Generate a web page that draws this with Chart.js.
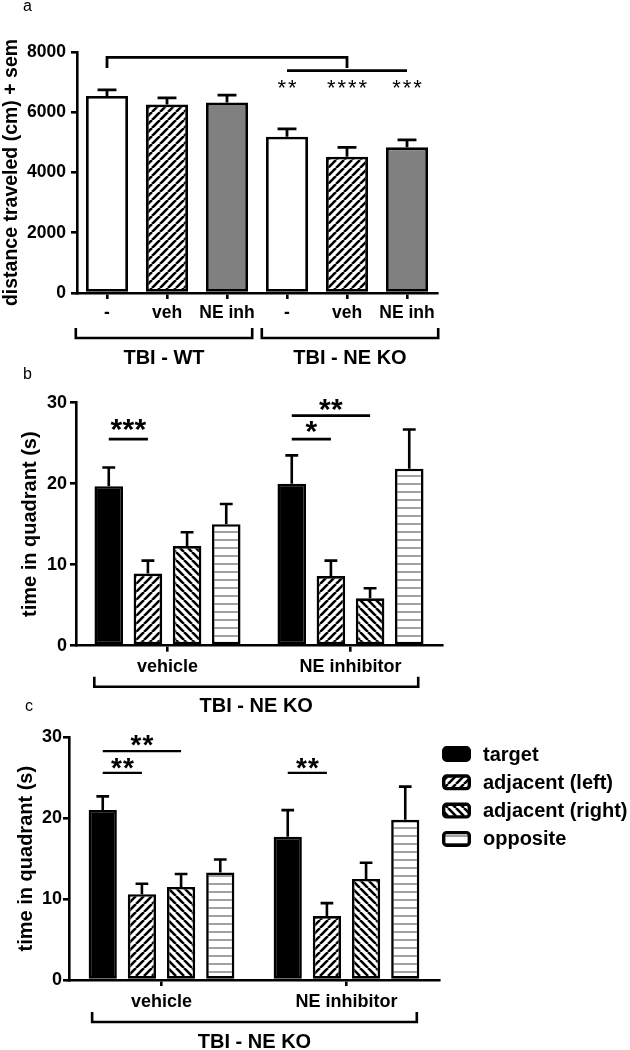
<!DOCTYPE html>
<html>
<head>
<meta charset="utf-8">
<script src="https://cdn.jsdelivr.net/npm/chart.js@4.4.1/dist/chart.umd.min.js"></script>
<style>
  html, body { margin: 0; padding: 0; background: #fff; }
  body { width: 630px; height: 1050px; position: relative; overflow: hidden; }
  canvas { position: absolute; left: 0; top: 0; }
</style>
</head>
<body>
<canvas id="chartA" width="630" height="1050"></canvas>
<canvas id="chartB" width="630" height="1050"></canvas>
<canvas id="chartC" width="630" height="1050"></canvas>
<script>
var FONT = '"Liberation Sans", Arial, sans-serif';

// panel a: distance traveled
var distLabels = ['-', 'veh', 'NE inh', '-', 'veh', 'NE inh'];
var distMean = [6540, 6260, 6320, 5190, 4525, 4835];
var distSem = [200, 220, 250, 255, 310, 245];
var distGroups = ['TBI - WT', 'TBI - NE KO'];
var distStars = ['', '', '', '**', '****', '***'];
var distTicks = [0, 2000, 4000, 6000, 8000];

// panels b and c: time in quadrant
var quadrants = ['target', 'adjacent (left)', 'adjacent (right)', 'opposite'];
var treatments = ['vehicle', 'NE inhibitor'];
var probeGroup = 'TBI - NE KO';
var timeTicks = [0, 10, 20, 30];

var bTarget = [19.7, 20.0];
var bTargetSem = [2.3, 3.5];
var bLeft = [8.9, 8.6];
var bLeftSem = [1.6, 1.9];
var bRight = [12.3, 5.85];
var bRightSem = [1.7, 1.25];
var bOpposite = [15.0, 21.85];
var bOppositeSem = [2.5, 4.85];

var cTarget = [21.0, 17.7];
var cTargetSem = [1.7, 3.3];
var cLeft = [10.6, 7.9];
var cLeftSem = [1.3, 1.6];
var cRight = [11.5, 12.5];
var cRightSem = [1.6, 2.0];
var cOpposite = [13.3, 19.8];
var cOppositeSem = [1.6, 4.1];

function makeHatch(ctx, dir) {
  var s = 8;
  var tile = document.createElement('canvas');
  tile.width = s;
  tile.height = s;
  var g = tile.getContext('2d');
  g.fillStyle = '#fff';
  g.fillRect(0, 0, s, s);
  g.strokeStyle = '#000';
  g.lineWidth = 2.6;
  g.beginPath();
  for (var k = -1; k <= 1; k++) {
    if (dir === '/') {
      g.moveTo(k * s, s);
      g.lineTo(k * s + s, 0);
    } else {
      g.moveTo(k * s, 0);
      g.lineTo(k * s + s, s);
    }
  }
  g.stroke();
  return ctx.createPattern(tile, 'repeat');
}

function makeLines(ctx) {
  var tile = document.createElement('canvas');
  tile.width = 8;
  tile.height = 8;
  var g = tile.getContext('2d');
  g.fillStyle = '#fff';
  g.fillRect(0, 0, 8, 8);
  g.fillStyle = '#7a7a7a';
  g.fillRect(0, 3.3, 8, 1.4);
  return ctx.createPattern(tile, 'repeat');
}

function barX(chart, ref) {
  if (Array.isArray(ref[0])) {
    var sum = 0;
    ref.forEach(function (r) { sum += barX(chart, r); });
    return sum / ref.length;
  }
  return chart.getDatasetMeta(ref[0]).data[ref[1]].x;
}

function drawStars(ctx, text, cx, cy, st) {
  var n = text.length;
  ctx.font = st.weight + ' ' + st.size + 'px ' + FONT;
  ctx.textAlign = 'center';
  ctx.textBaseline = 'alphabetic';
  for (var i = 0; i < n; i++) {
    ctx.fillText('*', cx + (i - (n - 1) / 2) * st.pitch, cy + st.size * 0.42);
  }
}

var extras = {
  id: 'extras',
  afterDatasetsDraw: function (chart, args, o) {
    var ctx = chart.ctx, y = chart.scales.y;
    ctx.save();
    ctx.strokeStyle = '#000';
    ctx.lineWidth = o.errWidth;
    chart.data.datasets.forEach(function (ds, di) {
      chart.getDatasetMeta(di).data.forEach(function (bar, i) {
        var top = y.getPixelForValue(ds.data[i] + o.sem[di][i]);
        var cap = bar.width * 0.45;
        ctx.beginPath();
        ctx.moveTo(bar.x, bar.y);
        ctx.lineTo(bar.x, top);
        ctx.moveTo(bar.x - cap / 2, top);
        ctx.lineTo(bar.x + cap / 2, top);
        ctx.stroke();
      });
    });
    ctx.restore();
  },
  afterDraw: function (chart, args, o) {
    var ctx = chart.ctx, x = chart.scales.x, y = chart.scales.y, area = chart.chartArea;
    ctx.save();
    ctx.strokeStyle = '#000';
    ctx.fillStyle = '#000';
    ctx.lineWidth = o.sigWidth;
    (o.sig || []).forEach(function (s) {
      var x1 = barX(chart, s.from), x2 = barX(chart, s.to);
      if (s.y !== undefined) {
        var py = y.getPixelForValue(s.y);
        ctx.beginPath();
        if (s.drop !== undefined) {
          var pd = y.getPixelForValue(s.drop);
          ctx.moveTo(x1, pd);
          ctx.lineTo(x1, py);
          ctx.lineTo(x2, py);
          ctx.lineTo(x2, pd);
        } else {
          ctx.moveTo(x1, py);
          ctx.lineTo(x2, py);
        }
        ctx.stroke();
      }
      if (s.text) {
        drawStars(ctx, s.text, (x1 + x2) / 2, y.getPixelForValue(s.ty), o.stars);
      }
    });

    ctx.lineWidth = 2.6;
    (o.groups || []).forEach(function (g) {
      var gx1 = x.getPixelForValue(g.from), gx2 = x.getPixelForValue(g.to);
      var by = area.bottom + o.groupOffset;
      ctx.beginPath();
      ctx.moveTo(gx1, by - 10);
      ctx.lineTo(gx1, by);
      ctx.lineTo(gx2, by);
      ctx.lineTo(gx2, by - 10);
      ctx.stroke();
      ctx.font = 'bold 20px ' + FONT;
      ctx.textAlign = 'center';
      ctx.textBaseline = 'middle';
      ctx.fillText(g.label, (gx1 + gx2) / 2, by + 20);
    });

    if (o.legend) {
      var L = o.legend;
      chart.data.datasets.forEach(function (ds, i) {
        var cy = L.y + i * L.dy;
        ctx.beginPath();
        ctx.roundRect(L.x + 1.7, cy - L.h / 2 + 1.7, L.w - 3.4, L.h - 3.4, 3);
        ctx.fillStyle = ds.backgroundColor;
        ctx.fill();
        ctx.lineWidth = 3.4;
        ctx.strokeStyle = '#000';
        ctx.stroke();
        ctx.fillStyle = '#000';
        ctx.font = 'bold 20px ' + FONT;
        ctx.textAlign = 'left';
        ctx.textBaseline = 'middle';
        ctx.fillText(ds.label, L.tx, cy + 1);
      });
    }

    if (o.letter) {
      ctx.fillStyle = '#000';
      ctx.font = '16px ' + FONT;
      ctx.textAlign = 'left';
      ctx.textBaseline = 'middle';
      ctx.fillText(o.letter.text, o.letter.x, o.letter.y);
    }
    ctx.restore();
  }
};

function scalesFor(cfg) {
  return {
    x: {
      type: 'category',
      offset: true,
      grid: { display: true, drawOnChartArea: false, drawTicks: true, tickLength: 6, offset: false, color: '#000', lineWidth: 2.6 },
      border: { display: true, color: '#000', width: 2.6 },
      ticks: { color: '#000', autoSkip: false, maxRotation: 0, padding: cfg.xPad,
        font: { family: FONT, size: cfg.tickSize, weight: 'bold' } },
      afterFit: function (s) { s.height = 1050 - cfg.bottom; }
    },
    y: {
      min: cfg.ticks[0],
      max: cfg.ticks[cfg.ticks.length - 1],
      afterBuildTicks: function (s) { s.ticks = cfg.ticks.map(function (v) { return { value: v }; }); },
      grid: { display: true, drawOnChartArea: false, drawTicks: true, tickLength: 6, color: '#000', lineWidth: 2.6 },
      border: { display: true, color: '#000', width: 2.6 },
      ticks: { color: '#000', padding: cfg.yPad, font: { family: FONT, size: cfg.tickSize, weight: 'bold' },
        callback: function (v) { return String(v); } },
      title: { display: true, text: cfg.title, color: '#000', padding: { top: cfg.titlePad, bottom: 0 },
        font: { family: FONT, size: cfg.titleSize, weight: 'bold' } },
      afterFit: function (s) { s.width = cfg.left; }
    }
  };
}

function baseOptions(cfg, extraOpts) {
  return {
    responsive: false,
    animation: false,
    devicePixelRatio: 1,
    events: [],
    layout: { padding: { left: 0, top: cfg.top, right: 630 - cfg.right, bottom: 0 } },
    plugins: { legend: { display: false }, tooltip: { enabled: false }, extras: extraOpts },
    scales: scalesFor(cfg)
  };
}

// ---- panel a ----
var ctxA = document.getElementById('chartA').getContext('2d');
var hatchA = makeHatch(ctxA, '/');
var sigA = [
  { from: [0, 0], to: [[0, 3], [0, 5]], y: 7820, drop: 7470 },
  { from: [0, 3], to: [0, 5], y: 7380 }
];
distStars.forEach(function (t, i) {
  if (t) sigA.push({ from: [0, i], to: [0, i], text: t, ty: 6870 });
});
new Chart(ctxA, {
  type: 'bar',
  data: {
    labels: distLabels,
    datasets: [{
      label: 'distance',
      data: distMean,
      backgroundColor: ['#fff', hatchA, '#808080', '#fff', hatchA, '#808080'],
      borderColor: '#000',
      borderWidth: 2.8,
      borderSkipped: false,
      barPercentage: 0.7,
      categoryPercentage: 1
    }]
  },
  options: baseOptions(
    { top: 52, bottom: 293, left: 77, right: 437, ticks: distTicks, tickSize: 17.5, xPad: 4, yPad: 5,
      title: 'distance traveled (cm) + sem', titleSize: 19.5, titlePad: 0 },
    { sem: [distSem], errWidth: 2.8, sigWidth: 2.8,
      stars: { size: 22, pitch: 10.5, weight: 'normal' },
      sig: sigA,
      groupOffset: 45,
      groups: [
        { from: -0.52, to: 2.42, label: distGroups[0] },
        { from: 2.58, to: 5.52, label: distGroups[1] }
      ],
      letter: { text: 'a', x: 23, y: 7 } }
  ),
  plugins: [extras]
});

// ---- panels b and c ----
function quadrantChart(id, series, sems, cfg, extraOpts) {
  var ctx = document.getElementById(id).getContext('2d');
  var fills = ['#000', makeHatch(ctx, '/'), makeHatch(ctx, '\\'), makeLines(ctx)];
  extraOpts.sem = sems;
  return new Chart(ctx, {
    type: 'bar',
    data: {
      labels: treatments,
      datasets: quadrants.map(function (q, i) {
        return {
          label: q,
          data: series[i],
          backgroundColor: fills[i],
          borderColor: '#000',
          borderWidth: 2.6,
          borderSkipped: false,
          barPercentage: cfg.barPct,
          categoryPercentage: cfg.catPct
        };
      })
    },
    options: baseOptions(cfg, extraOpts),
    plugins: [extras]
  });
}

quadrantChart('chartB',
  [bTarget, bLeft, bRight, bOpposite],
  [bTargetSem, bLeftSem, bRightSem, bOppositeSem],
  { top: 402.7, bottom: 645.7, left: 76, right: 442, ticks: timeTicks, tickSize: 18, xPad: 5, yPad: 3,
    title: 'time in quadrant (s)', titleSize: 20, titlePad: 18, barPct: 0.73, catPct: 0.856 },
  { errWidth: 2.6, sigWidth: 2.6,
    stars: { size: 30, pitch: 12, weight: 'bold' },
    sig: [
      { from: [0, 0], to: [1, 0], y: 25.5, text: '***', ty: 27.1 },
      { from: [0, 1], to: [2, 1], y: 28.4, text: '**', ty: 29.6 },
      { from: [0, 1], to: [1, 1], y: 25.5, text: '*', ty: 26.8 }
    ],
    groupOffset: 41,
    groups: [{ from: -0.4, to: 1.37, label: probeGroup }],
    letter: { text: 'b', x: 23, y: 375 } }
);

quadrantChart('chartC',
  [cTarget, cLeft, cRight, cOpposite],
  [cTargetSem, cLeftSem, cRightSem, cOppositeSem],
  { top: 737.3, bottom: 980, left: 69, right: 439, ticks: timeTicks, tickSize: 18, xPad: 5, yPad: 1,
    title: 'time in quadrant (s)', titleSize: 20, titlePad: 14, barPct: 0.72, catPct: 0.847 },
  { errWidth: 2.6, sigWidth: 2.2,
    stars: { size: 28, pitch: 12, weight: 'bold' },
    sig: [
      { from: [0, 0], to: [2, 0], y: 28.3, text: '**', ty: 29.4 },
      { from: [0, 0], to: [1, 0], y: 25.6, text: '**', ty: 26.5 },
      { from: [0, 1], to: [1, 1], y: 25.6, text: '**', ty: 26.5 }
    ],
    groupOffset: 42,
    groups: [{ from: -0.375, to: 1.38, label: probeGroup }],
    legend: { x: 442, y: 754, dy: 28.3, w: 29, h: 16, tx: 483 },
    letter: { text: 'c', x: 25, y: 707 } }
);
</script>
</body>
</html>
